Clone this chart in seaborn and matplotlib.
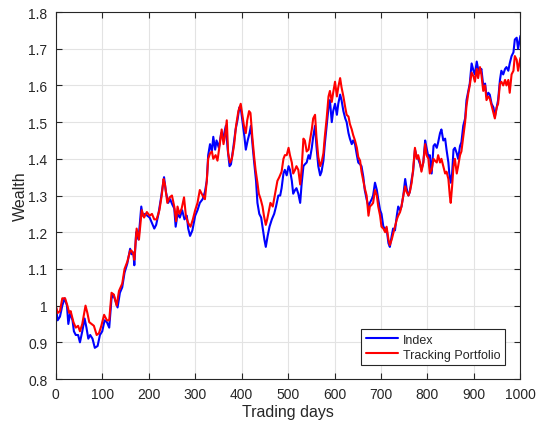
import matplotlib
matplotlib.use("Agg")
import matplotlib.pyplot as plt
import seaborn as sns
import pandas as pd

# Index wealth path (trading day, wealth)
index_days = [
    0, 4, 9, 14, 19, 24, 27, 31, 36, 39,
    43, 48, 52, 57, 62, 66, 70, 74, 79, 84,
    90, 95, 100, 105, 110, 115, 120, 124, 129, 133,
    138, 143, 148, 154, 160, 163, 167, 169, 173, 178,
    184, 187, 192, 197, 202, 207, 212, 216, 221, 226,
    230, 233, 237, 242, 246, 251, 255, 258, 262, 267,
    272, 277, 282, 285, 289, 294, 300, 305, 310, 316,
    321, 325, 328, 332, 336, 339, 343, 346, 351, 356,
    361, 366, 370, 374, 377, 382, 387, 391, 395, 399,
    402, 406, 409, 413, 417, 420, 424, 427, 431, 434,
    438, 442, 445, 449, 452, 456, 460, 465, 470, 474,
    479, 483, 486, 490, 493, 497, 501, 504, 508, 511,
    515, 518, 522, 526, 529, 533, 536, 540, 544, 547,
    551, 554, 558, 561, 565, 569, 572, 576, 579, 583,
    587, 590, 594, 597, 601, 605, 608, 612, 615, 619,
    623, 626, 630, 633, 637, 640, 644, 648, 651, 655,
    658, 662, 665, 669, 673, 676, 680, 683, 687, 691,
    694, 698, 701, 705, 709, 712, 716, 719, 723, 726,
    730, 734, 737, 741, 744, 748, 752, 755, 759, 762,
    766, 769, 773, 777, 780, 784, 787, 791, 795, 798,
    802, 805, 809, 813, 816, 820, 823, 827, 830, 834,
    838, 841, 845, 847, 850, 853, 856, 859, 863, 866,
    870, 873, 877, 881, 884, 888, 891, 895, 899, 902,
    906, 909, 913, 916, 920, 924, 927, 931, 934, 938,
    942, 945, 949, 952, 956, 959, 963, 967, 970, 974,
    977, 981, 985, 988, 992, 995, 1000,
]
index_wealth = [
    1.00, 0.96, 0.97, 1.00, 1.02, 1.00, 0.95, 0.98, 0.96, 0.93,
    0.92, 0.92, 0.90, 0.93, 0.965, 0.94, 0.91, 0.92, 0.91, 0.885,
    0.89, 0.92, 0.93, 0.96, 0.955, 0.94, 1.02, 1.03, 1.01, 0.995,
    1.035, 1.05, 1.09, 1.115, 1.155, 1.14, 1.145, 1.11, 1.20, 1.18,
    1.27, 1.245, 1.25, 1.245, 1.24, 1.225, 1.21, 1.22, 1.25, 1.29,
    1.325, 1.35, 1.31, 1.28, 1.29, 1.275, 1.265, 1.215, 1.25, 1.24,
    1.26, 1.235, 1.245, 1.21, 1.19, 1.205, 1.245, 1.26, 1.28, 1.29,
    1.31, 1.34, 1.41, 1.44, 1.42, 1.46, 1.425, 1.45, 1.43, 1.47,
    1.46, 1.49, 1.425, 1.38, 1.385, 1.43, 1.48, 1.505, 1.54, 1.53,
    1.50, 1.46, 1.425, 1.45, 1.47, 1.49, 1.43, 1.39, 1.34, 1.28,
    1.25, 1.24, 1.215, 1.18, 1.16, 1.19, 1.215, 1.235, 1.25, 1.27,
    1.30, 1.30, 1.32, 1.36, 1.37, 1.355, 1.38, 1.37, 1.34, 1.305,
    1.315, 1.32, 1.305, 1.28, 1.33, 1.38, 1.385, 1.39, 1.41, 1.40,
    1.43, 1.46, 1.49, 1.435, 1.38, 1.355, 1.365, 1.395, 1.44, 1.49,
    1.54, 1.56, 1.50, 1.53, 1.55, 1.52, 1.55, 1.575, 1.56, 1.53,
    1.51, 1.50, 1.47, 1.455, 1.44, 1.45, 1.44, 1.41, 1.39, 1.385,
    1.38, 1.35, 1.315, 1.29, 1.27, 1.28, 1.29, 1.30, 1.335, 1.315,
    1.29, 1.26, 1.25, 1.215, 1.21, 1.21, 1.17, 1.16, 1.19, 1.21,
    1.205, 1.245, 1.27, 1.26, 1.27, 1.30, 1.345, 1.32, 1.30, 1.31,
    1.345, 1.365, 1.425, 1.405, 1.40, 1.385, 1.37, 1.39, 1.45, 1.43,
    1.405, 1.41, 1.36, 1.435, 1.44, 1.43, 1.445, 1.47, 1.48, 1.45,
    1.455, 1.425, 1.39, 1.36, 1.335, 1.36, 1.425, 1.43, 1.415, 1.40,
    1.435, 1.445, 1.49, 1.51, 1.56, 1.585, 1.605, 1.66, 1.64, 1.63,
    1.665, 1.645, 1.635, 1.645, 1.60, 1.605, 1.57, 1.58, 1.575, 1.55,
    1.54, 1.515, 1.54, 1.56, 1.615, 1.64, 1.63, 1.645, 1.65, 1.64,
    1.66, 1.68, 1.69, 1.725, 1.73, 1.70, 1.735,
]

# Tracking portfolio wealth path (trading day, wealth)
tracking_days = [
    0, 4, 9, 14, 20, 25, 29, 32, 38, 43,
    48, 52, 57, 64, 68, 72, 77, 82, 88, 93,
    98, 104, 110, 115, 120, 125, 131, 136, 143, 148,
    154, 160, 163, 167, 169, 174, 179, 185, 190, 196,
    202, 207, 212, 217, 223, 228, 232, 235, 240, 245,
    250, 255, 259, 262, 266, 271, 276, 280, 285, 290,
    295, 300, 305, 310, 316, 321, 325, 328, 332, 336,
    339, 344, 348, 353, 357, 361, 364, 368, 371, 375,
    379, 384, 388, 393, 398, 402, 405, 409, 412, 416,
    419, 423, 427, 430, 434, 437, 441, 445, 448, 452,
    455, 459, 462, 467, 472, 477, 481, 486, 490, 493,
    497, 501, 504, 508, 511, 515, 518, 522, 526, 529,
    533, 536, 540, 544, 547, 551, 554, 558, 561, 565,
    569, 572, 576, 579, 583, 587, 590, 594, 597, 601,
    605, 608, 612, 615, 619, 623, 626, 630, 633, 637,
    640, 644, 648, 651, 655, 658, 662, 665, 669, 673,
    676, 680, 683, 687, 691, 694, 698, 701, 705, 709,
    712, 716, 719, 723, 726, 730, 734, 737, 741, 744,
    748, 752, 755, 759, 762, 766, 769, 773, 777, 780,
    784, 787, 791, 795, 798, 802, 805, 809, 813, 816,
    820, 823, 827, 830, 834, 838, 841, 845, 848, 850,
    853, 856, 859, 863, 866, 870, 873, 877, 881, 884,
    888, 891, 895, 899, 902, 906, 909, 913, 916, 920,
    924, 927, 931, 934, 938, 942, 945, 949, 952, 956,
    959, 963, 967, 970, 974, 977, 981, 985, 988, 992,
    995, 1000,
]
tracking_wealth = [
    1.00, 0.98, 0.985, 1.02, 1.02, 1.00, 0.98, 0.985, 0.955, 0.94,
    0.945, 0.93, 0.95, 1.00, 0.98, 0.955, 0.95, 0.945, 0.92, 0.925,
    0.945, 0.975, 0.96, 0.96, 1.035, 1.03, 1.00, 1.04, 1.06, 1.10,
    1.12, 1.15, 1.15, 1.14, 1.125, 1.21, 1.18, 1.26, 1.24, 1.255,
    1.245, 1.25, 1.235, 1.235, 1.26, 1.30, 1.345, 1.33, 1.28, 1.295,
    1.30, 1.27, 1.23, 1.27, 1.25, 1.265, 1.295, 1.245, 1.225, 1.215,
    1.235, 1.26, 1.28, 1.315, 1.30, 1.29, 1.34, 1.40, 1.415, 1.42,
    1.40, 1.41, 1.395, 1.44, 1.48, 1.44, 1.46, 1.505, 1.415, 1.39,
    1.40, 1.44, 1.49, 1.53, 1.55, 1.515, 1.49, 1.47, 1.505, 1.53,
    1.525, 1.46, 1.405, 1.37, 1.335, 1.305, 1.29, 1.27, 1.245, 1.22,
    1.235, 1.26, 1.28, 1.27, 1.305, 1.34, 1.35, 1.365, 1.40, 1.41,
    1.41, 1.43, 1.41, 1.39, 1.36, 1.37, 1.38, 1.37, 1.33, 1.37,
    1.455, 1.45, 1.42, 1.425, 1.45, 1.48, 1.51, 1.52, 1.46, 1.405,
    1.38, 1.39, 1.415, 1.46, 1.51, 1.57, 1.585, 1.555, 1.58, 1.61,
    1.57, 1.595, 1.62, 1.595, 1.57, 1.54, 1.52, 1.515, 1.495, 1.48,
    1.465, 1.45, 1.43, 1.405, 1.395, 1.365, 1.34, 1.32, 1.30, 1.245,
    1.27, 1.275, 1.28, 1.315, 1.30, 1.27, 1.245, 1.215, 1.21, 1.20,
    1.215, 1.18, 1.165, 1.18, 1.195, 1.215, 1.235, 1.245, 1.255, 1.27,
    1.30, 1.325, 1.31, 1.30, 1.31, 1.335, 1.37, 1.43, 1.40, 1.41,
    1.39, 1.365, 1.39, 1.44, 1.41, 1.40, 1.36, 1.37, 1.40, 1.395,
    1.39, 1.41, 1.39, 1.40, 1.38, 1.36, 1.365, 1.345, 1.30, 1.28,
    1.325, 1.38, 1.40, 1.36, 1.38, 1.41, 1.42, 1.46, 1.50, 1.545,
    1.58, 1.60, 1.635, 1.625, 1.61, 1.645, 1.62, 1.65, 1.63, 1.585,
    1.60, 1.56, 1.57, 1.565, 1.545, 1.525, 1.51, 1.54, 1.55, 1.605,
    1.61, 1.60, 1.615, 1.60, 1.615, 1.58, 1.63, 1.64, 1.68, 1.67,
    1.64, 1.675,
]

x_ticks = [0, 100, 200, 300, 400, 500, 600, 700, 800, 900, 1000]
y_ticks = [0.8, 0.9, 1.0, 1.1, 1.2, 1.3, 1.4, 1.5, 1.6, 1.7, 1.8]
y_tick_labels = ["0.8", "0.9", "1", "1.1", "1.2", "1.3", "1.4", "1.5", "1.6", "1.7", "1.8"]

sns.set_theme(style="whitegrid")
plt.rcParams["font.family"] = ["Liberation Sans", "DejaVu Sans"]

index_df = pd.DataFrame({"day": index_days, "wealth": index_wealth})
tracking_df = pd.DataFrame({"day": tracking_days, "wealth": tracking_wealth})

fig = plt.figure(figsize=(5.39, 4.27), dpi=100)
ax = fig.add_axes([0.1035, 0.110, 0.8620, 0.8595])

sns.lineplot(data=index_df, x="day", y="wealth", ax=ax, color="#0000ff",
             linewidth=1.5, label="Index", estimator=None)
sns.lineplot(data=tracking_df, x="day", y="wealth", ax=ax, color="#ff0000",
             linewidth=1.5, label="Tracking Portfolio", estimator=None)

ax.set_xlim(0, 1000)
ax.set_ylim(0.8, 1.8)
ax.set_xticks(x_ticks)
ax.set_yticks(y_ticks)
ax.set_yticklabels(y_tick_labels)

text_color = "#262626"
ax.set_xlabel("Trading days", fontsize=11.5, color=text_color, labelpad=2)
ax.set_ylabel("Wealth", fontsize=11.5, color=text_color, labelpad=0)

ax.grid(True, color="#e3e3e3", linewidth=0.8)
ax.set_axisbelow(True)
for side in ["left", "right", "top", "bottom"]:
    ax.spines[side].set_visible(True)
    ax.spines[side].set_color(text_color)
    ax.spines[side].set_linewidth(0.8)
ax.tick_params(axis="both", which="both", direction="in", length=4, width=0.8,
               colors=text_color, labelsize=10, top=True, right=True,
               bottom=True, left=True)
ax.tick_params(axis="x", pad=6)
ax.tick_params(axis="y", pad=6)

leg = ax.legend(loc="lower right", bbox_to_anchor=(0.967, 0.038), fontsize=9,
                frameon=True, fancybox=False, framealpha=1, edgecolor=text_color,
                borderpad=0.35, labelspacing=0.25, handlelength=2.6, handletextpad=0.4,
                borderaxespad=0)
leg.get_frame().set_linewidth(0.8)

fig.savefig("out.png", dpi=100, facecolor="white")
